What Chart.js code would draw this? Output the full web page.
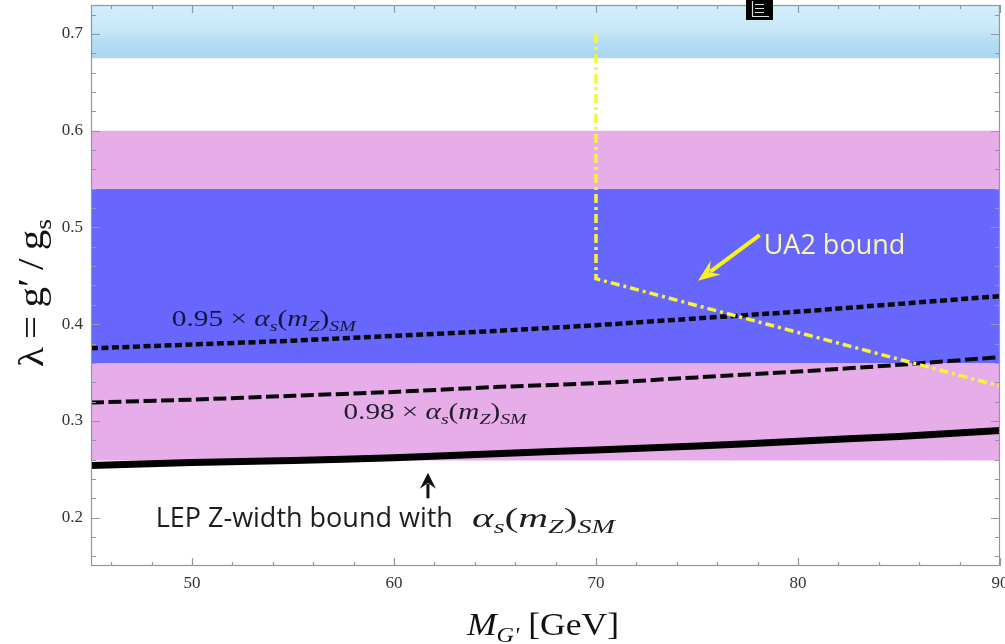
<!DOCTYPE html>
<html><head><meta charset="utf-8">
<script src="https://cdn.jsdelivr.net/npm/chart.js@4.4.1/dist/chart.umd.min.js"></script>
<style>html,body{margin:0;padding:0;background:#fff;}canvas{display:block;}</style>
</head><body>
<canvas id="c" width="1005" height="644"></canvas>
<script>
// ---- data ----
const massGeV = [45, 50, 55, 60, 65, 70, 75, 80, 85, 90];
const lepSM   = [0.254, 0.257, 0.259, 0.262, 0.266, 0.270, 0.274, 0.279, 0.284, 0.290];
const lep098  = [0.319, 0.322, 0.326, 0.330, 0.335, 0.339, 0.345, 0.351, 0.358, 0.366];
const lep095  = [0.375, 0.379, 0.383, 0.388, 0.393, 0.399, 0.406, 0.413, 0.421, 0.429];
const ua2X = [70, 70, 90];
const ua2Y = [0.700, 0.447, 0.336];
const bandX = [45, 90];
const skyBand   = [0.675, 0.73];
const pinkUpper = [0.54, 0.60];
const blueBand  = [0.36, 0.54];
const pinkLower = [0.259, 0.36];
const xTicks = [50, 60, 70, 80, 90];
const yTicks = [0.2, 0.3, 0.4, 0.5, 0.6, 0.7];
const xMinor = [46, 48, 52, 54, 56, 58, 62, 64, 66, 68, 72, 74, 76, 78, 82, 84, 86, 88];
const yMinor = [0.16, 0.18, 0.22, 0.24, 0.26, 0.28, 0.32, 0.34, 0.36, 0.38, 0.42, 0.44, 0.46, 0.48, 0.52, 0.54, 0.56, 0.58, 0.62, 0.64, 0.66, 0.68, 0.72];
const xRange = [45, 90];
const yRange = [0.15, 0.73];

// annotation anchors (data coordinates)
const lbl095 = {x: 49.0, y: 0.398};
const lbl098 = {x: 57.5, y: 0.302};
const lblUA2 = {x: 78.3, y: 0.473};
const arrUA2 = {x0: 78.1, y0: 0.492, x1: 75.05, y1: 0.445};
const lblLEP = {x: 48.2, y: 0.190, mathX: 63.86};
const arrLEP = {x0: 61.68, y0: 0.220, x1: 61.68, y1: 0.2465};

const pts = (xs, ys) => xs.map((x, i) => ({x, y: ys[i]}));
const band = (b, color) => ({
  data: bandX.map(x => ({x, y: b[1]})), fill: {value: b[0]},
  backgroundColor: color, borderWidth: 0, pointRadius: 0, order: 10
});

const SERIF = '"Liberation Serif", "DejaVu Serif", serif';
const SANS = '"Open Sans", "Noto Sans", sans-serif';

function drawRich(ctx, segs, x, y, size, family, color, targetW) {
  ctx.save();
  const items = segs.map(([t, st]) => {
    const sub = st.startsWith('sub');
    const it = st === 'i' || st === 'sub';
    const fs = sub ? size * 0.68 : size;
    const font = (it ? 'italic ' : '') + fs.toFixed(1) + 'px ' + family;
    ctx.font = font;
    return {t, font, w: ctx.measureText(t).width, dy: sub ? size * 0.22 : 0};
  });
  const W = items.reduce((a, b) => a + b.w, 0);
  const sc = targetW ? targetW / W : 1;
  ctx.translate(x, y);
  ctx.scale(sc, 1);
  ctx.fillStyle = color;
  ctx.textBaseline = 'alphabetic';
  ctx.textAlign = 'left';
  let cx = 0;
  for (const it of items) { ctx.font = it.font; ctx.fillText(it.t, cx, it.dy); cx += it.w; }
  ctx.restore();
}

function arrow(ctx, x0, y0, x1, y1, color, lw, hl, hw) {
  const a = Math.atan2(y1 - y0, x1 - x0);
  ctx.save();
  ctx.strokeStyle = color; ctx.fillStyle = color; ctx.lineWidth = lw;
  ctx.beginPath(); ctx.moveTo(x0, y0);
  ctx.lineTo(x1 - hl * 0.7 * Math.cos(a), y1 - hl * 0.7 * Math.sin(a)); ctx.stroke();
  ctx.translate(x1, y1); ctx.rotate(a);
  ctx.beginPath(); ctx.moveTo(0, 0); ctx.lineTo(-hl, hw / 2); ctx.lineTo(-hl * 0.65, 0); ctx.lineTo(-hl, -hw / 2);
  ctx.closePath(); ctx.fill();
  ctx.restore();
}

const mathAlpha = [['α', 'i'], ['s', 'sub'], ['(', 'r'], ['m', 'i'], ['Z', 'sub'], [')', 'r'], ['SM', 'sub']];

const decor = {
  id: 'decor',
  afterDatasetsDraw(chart) {
    const {ctx, chartArea: ca, scales: {x, y}} = chart;
    const X = v => x.getPixelForValue(v), Y = v => y.getPixelForValue(v);
    drawRich(ctx, [['0.95 × ', 'r']].concat(mathAlpha), X(lbl095.x), Y(lbl095.y), 23, SERIF, '#15153a', 184);
    drawRich(ctx, [['0.98 × ', 'r']].concat(mathAlpha), X(lbl098.x), Y(lbl098.y), 23, SERIF, '#221c2e', 183);
    ctx.save();
    ctx.font = '27px ' + SANS; ctx.fillStyle = '#fbf7a8'; ctx.textBaseline = 'alphabetic';
    ctx.fillText('UA2 bound', X(lblUA2.x), Y(lblUA2.y));
    ctx.fillStyle = '#1e1e1e';
    ctx.fillText('LEP Z-width bound with', X(lblLEP.x), Y(lblLEP.y));
    ctx.restore();
    drawRich(ctx, mathAlpha, X(lblLEP.mathX), Y(lblLEP.y), 28, SERIF, '#1e1e1e', 143);
    arrow(ctx, X(arrUA2.x0), Y(arrUA2.y0), X(arrUA2.x1), Y(arrUA2.y1), '#f6f21a', 4, 22, 17);
    arrow(ctx, X(arrLEP.x0), Y(arrLEP.y0), X(arrLEP.x1), Y(arrLEP.y1), '#111', 3, 16, 16);
    // frame + inward ticks
    ctx.save();
    ctx.strokeStyle = '#8b98a7'; ctx.lineWidth = 1.2;
    ctx.strokeRect(ca.left + 0.5, ca.top + 0.5, ca.right - ca.left - 1, ca.bottom - ca.top - 1);
    ctx.beginPath();
    const tx = (v, L) => { const p = Math.round(X(v)) + 0.5; ctx.moveTo(p, ca.bottom); ctx.lineTo(p, ca.bottom - L); ctx.moveTo(p, ca.top); ctx.lineTo(p, ca.top + L); };
    const ty = (v, L) => { const p = Math.round(Y(v)) + 0.5; ctx.moveTo(ca.left, p); ctx.lineTo(ca.left + L, p); ctx.moveTo(ca.right, p); ctx.lineTo(ca.right - L, p); };
    xTicks.forEach(v => tx(v, 8)); xMinor.forEach(v => tx(v, 4));
    yTicks.forEach(v => ty(v, 9)); yMinor.forEach(v => ty(v, 5));
    ctx.stroke();
    ctx.restore();
  },
  afterDraw(chart) {
    const {ctx, chartArea: ca} = chart;
    drawRich(ctx, [['M', 'i'], ["G'", 'sub'], [' [GeV]', 'r']], ca.left + 376, ca.bottom + 69, 31, SERIF, '#111', 152);
    ctx.save();
    ctx.translate(ca.left - 48, 367);
    ctx.rotate(-Math.PI / 2);
    drawRich(ctx, [['λ\u2009=\u2009g\u2032\u2009/\u2009g', 'r'], ['s', 'subr']], 0, 0, 35, SERIF, '#111', 148);
    ctx.restore();
    // small toolbar icon at top
    ctx.save();
    ctx.fillStyle = '#000'; ctx.fillRect(746, 0, 27, 20);
    ctx.strokeStyle = '#ddd'; ctx.lineWidth = 1.2;
    ctx.beginPath();
    ctx.moveTo(752.5, 1); ctx.lineTo(752.5, 16.5); ctx.lineTo(769, 16.5);
    [4.5, 8.5, 12.5].forEach(v => { ctx.moveTo(755, v); ctx.lineTo(764, v); });
    ctx.stroke();
    ctx.restore();
  }
};

new Chart(document.getElementById('c'), {
  type: 'line',
  data: {
    datasets: [
      {
        data: bandX.map(x => ({x, y: skyBand[1]})), fill: {value: skyBand[0]}, borderWidth: 0, pointRadius: 0, order: 10,
        backgroundColor: (c) => {
          const ch = c.chart; if (!ch.chartArea) return '#c4e4f7';
          const yy = ch.scales.y;
          const g = ch.ctx.createLinearGradient(0, yy.getPixelForValue(skyBand[1]), 0, yy.getPixelForValue(skyBand[0]));
          g.addColorStop(0, '#d3eefb'); g.addColorStop(0.45, '#c9e8f8'); g.addColorStop(0.7, '#b4dcf4'); g.addColorStop(1, '#abd6f1');
          return g;
        }
      },
      band(pinkUpper, '#e6ade8'),
      band(blueBand, '#6767fd'),
      band(pinkLower, '#e6ade8'),
      {data: pts(massGeV, lep095), borderColor: '#0a0a0a', borderWidth: 4.5, borderDash: [7, 3.5], pointRadius: 0, fill: false, tension: 0.3, order: 1},
      {data: pts(massGeV, lep098), borderColor: '#0a0a0a', borderWidth: 4, borderDash: [13, 4.5], pointRadius: 0, fill: false, tension: 0.3, order: 1},
      {data: pts(massGeV, lepSM), borderColor: '#000', borderWidth: 7, pointRadius: 0, fill: false, tension: 0.3, order: 1},
      {data: pts(ua2X, ua2Y), borderColor: '#f7f43a', borderWidth: 3.5, borderDash: [9, 4, 3, 4], pointRadius: 0, fill: false, tension: 0, order: 0}
    ]
  },
  options: {
    responsive: false, animation: false, devicePixelRatio: 1,
    layout: {padding: {top: 5, right: 5, left: 0, bottom: 0}},
    plugins: {legend: {display: false}, tooltip: {enabled: false}},
    scales: {
      x: {
        type: 'linear', min: xRange[0], max: xRange[1],
        grid: {display: false, drawTicks: false}, border: {display: false},
        afterBuildTicks: s => { s.ticks = xTicks.map(v => ({value: v})); },
        afterFit: s => { s.height = 78; s.paddingLeft = 0; s.paddingRight = 0; },
        ticks: {font: {family: SERIF, size: 17}, color: '#333', padding: 7, maxRotation: 0, callback: v => String(v)}
      },
      y: {
        type: 'linear', min: yRange[0], max: yRange[1],
        grid: {display: false, drawTicks: false}, border: {display: false},
        afterBuildTicks: s => { s.ticks = yTicks.map(v => ({value: v})); },
        afterFit: s => { s.width = 91; s.paddingTop = 0; s.paddingBottom = 0; },
        ticks: {font: {family: SERIF, size: 17}, color: '#333', padding: 8, callback: v => v.toFixed(1)}
      }
    }
  },
  plugins: [decor]
});
</script>
</body></html>
